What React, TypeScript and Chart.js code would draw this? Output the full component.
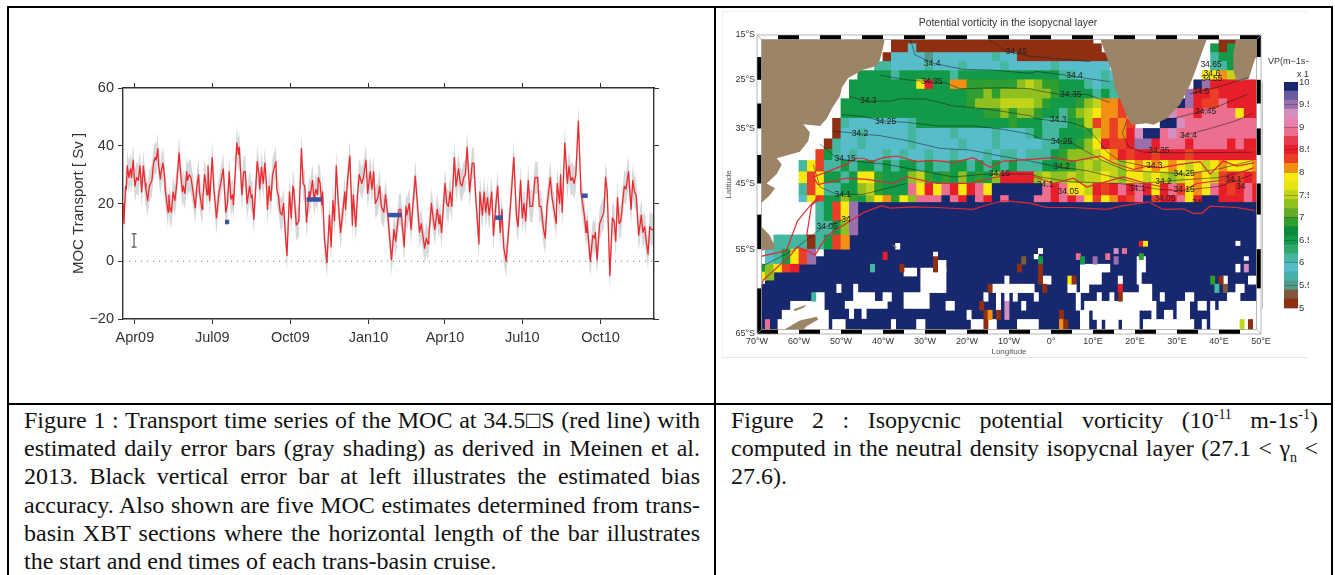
import React, { useEffect, useRef } from "react";
import { Chart, registerables } from "chart.js";

Chart.register(...registerables);

// ---------- Figure 1 data ----------
const tickDays = [14, 105, 197, 289, 379, 470, 562];
const tickMonths = ["Apr09", "Jul09", "Oct09", "Jan10", "Apr10", "Jul10", "Oct10"];
const transportDays = [0,1,3,4,5,7,8,9,10,12,14,16,18,20,22,24,26,27,29,31,34,36,38,39,41,42,44,45,47,49,50,53,54,55,57,59,61,63,66,68,70,71,73,75,76,78,80,82,85,87,89,90,93,94,96,97,99,100,102,103,105,107,110,113,115,118,119,121,123,125,127,129,130,132,134,136,137,138,140,142,144,146,149,151,152,154,158,160,161,163,165,167,169,170,172,174,176,180,181,183,185,187,189,191,193,196,198,200,201,204,207,210,212,214,216,219,220,223,225,227,229,230,232,234,235,237,240,243,245,247,249,251,253,256,259,261,262,264,267,270,271,274,276,278,281,283,286,288,291,293,295,297,300,302,304,307,309,312,316,319,321,325,327,331,333,334,337,339,344,347,349,351,355,357,359,360,363,365,367,370,372,373,375,379,381,383,385,387,390,392,395,397,399,401,403,405,408,411,413,415,419,420,423,425,427,429,431,434,436,439,441,444,446,448,451,455,460,463,465,468,470,472,474,477,479,482,485,488,490,492,495,497,499,503,505,506,510,511,514,515,517,520,523,525,527,529,531,533,536,539,541,543,545,546,550,553,555,556,558,561,566,568,570,573,576,578,580,582,584,586,590,592,595,598,600,602,604,607,610,612,614,615,618,620,622,624];
const transportSv = [20,13,26,25,33,29,31,32,29,35,26,29,28,33,24,33,27,25,21,26,28,34,36,35,39,33,28.5,31,34,29,24,17,23,19,17,24,21,26,37.5,30,24,26,23.5,31,28,30,29,25,18.5,26,30,24,18,22,30,28,23,33,21,26,36,25,15,24,27,32,27,17,20,31,21.5,23,19.5,30,41,37,39.5,33,23,31,31,20,26,22,23,14.5,34.5,30,25,32.5,27,34,26,18,26,21,30,34.5,25,22.5,17,16,20,10,2,24,15,26,25,12.5,14,39,27,26,13.5,24,22,28,21,25,23,29,27,19.5,24,8,-0.5,16,5,21,14,33,22,10,18,24,18,27,36.5,12.5,23,12,23,30,27,29,35,23.5,31,25,31,20,22,26,19,17,23,15,0.5,11,7,18,18,5,19,16,20,11,29.5,18,10,13,4.5,8,6,9,20,15,11,18,13,16,10,27,20,19,24,19,36,26,32,27,26,29,30,39.5,24,34,34,23,6,24,16,24,17,22,16,24,9,20,26,10,18,5,0,15,36,16,12,28,15,20,14,28,19,19,29,29,19,19,11,8,19,29,22,22,13,27,20,30,17,41,27,33,28,29,27,30,48.5,24,20,16,10,14,0,9,8,10,0.5,13,17,29,24,-5,15,14,7,22,13,14,26,25,31,18,28,24,23,9,16,10,12,9,2.5,12,11,11];
const dailyErrorSv = 5.5;
const biasBar = { day: 13, low: 4.9, high: 9.5, capDays: 3 };
const xbtStartDays = [120, 216, 312, 438, 540];
const xbtEndDays = [125, 234, 328, 447, 547];
const xbtSv = [13.6, 21.4, 16, 15.1, 22.7];

// ---------- Figure 2 data ----------
const pvBandColours = ["#8f2f12","#7f5a3a","#4f9a88","#45b0a8","#58bdcb","#45b7a0","#2da86a","#129a48","#0a8a3c","#2f9e30","#62ab25","#8fc020","#c2d41a","#e6e312","#f9e80f","#f39014","#ea3f24","#e61f2b","#e73a4c","#ec6f8f","#ea80ad","#d48fbe","#9a6fae","#6a5aa0","#18286e"];
const pvCodes: Record<string, number> = { b:5.05,e:5.25,t:5.5,c:5.85,T:6.05,G:6.55,g:6.85,l:7.25,y:7.45,Y:7.85,o:8.05,r:8.25,R:8.45,p:8.85,q:9.25,u:9.55,n:9.9 };
const gridLatEdges = [15,17,19,21,23,25,27,29,31,33,35,37,39,41,43,45,47,48,51,53,55,57,58,59];
const gridRows = [
"................bbbbbbbbbbbbbbbbbbbbbbbb...............bb",
"................bbcbbbbbbbbbbbbbbbbbbbbbb.............GbG",
"...............bcccctcccccccTccbbbbbbbbbbb............TGGT",
"..............TTccccTcccTccccTcccccTcccccc............TTGG",
"............GGGGTGGGGGGTGGGGGGGGGGGGTTcccTc..........YYoy",
"...........GGGGGGGGYRGGoogggggglylggGGGTcTTc........nuRRRRRR",
"...........GGGGGGGGGGGGGGgglgllllllgGGGGTGTT.......uRRrRRRRR",
"..........GGGGGGGGGGGGGGGglllyyyylgGGGglyoor......nuRrrpRRRR",
"..........GGGGGGGGGGGGGGGGGgglgllgGGTglyYoor....uqppRppppYRR",
".........bTcccccccTGGGGGGGGGGGgGGGTTTGgyroror...nnqppppppppp",
".........bccTcccccTccccTccccTcccTGTTGGGgyoroRqnnpqpppppppppp",
"........bTccTcccccTcccccTcccTcccccTTGGglYRrrRuuRpppRppppRpRR",
".......rGTcTcccTcTccTccTcccTcTTcTTTGglllyYoRrRRrRRRrRRRRRRRR",
".....TYrTTGTGGTGTGGTGTTGGTGTGTGTTTGGgglylyylYoYoYoYyYyYoYYYo",
".....YrYGGTGYYgGGGlygGgGlGgGlRRRRlyllylyyYylYYyYylyYoYyrRrRr",
".....TrYTTGGlygGGGpYRYpRYRpYnnnnnnpRpYYyRrRpRpRYRprYoYpRrRpR",
".....cYrGGlgGlYogYlpppnpRnpRnpnnnppRpRpYrYoRrpnrRRpYRnnRRRpR",
".......TGrYu",
".......TTGlu",
"..TTTTbTGro",
".cTGYru",
"GlYrR",
"Yl",
];
const navyTopLat = [59.5,59,58,58,58,57,56,56,55,55,54,52];
const navyTopDefault = 48;
// [lon start, lon end, lat top, lat bottom, code]; "." means no data
const southPatches: [number, number, number, number, string][] = [
[-37,-36,54.2,55,"."],[-28,-27,55.4,56.4,"."],[-35,-32,57.5,58.5,"."],[-31,-25,57.5,59.5,"."],[-27,-25,56.5,58,"."],[-35,-29,60.5,62.3,"."],[-31,-25,59.5,60.5,"."],
[-51,-50,59.5,60.5,"."],[-47,-46,59.5,60.5,"."],[-47,-42,60.5,61.5,"."],[-49,-39,61.5,62.3,"."],[-40,-38,60.5,61.5,"."],[-48,-47,62.3,63.4,"."],[-45,-44,62.3,63.4,"."],
[-56,-54,60.5,61.5,"."],[-62,-54,61.5,62.5,"."],[-64,-53,62.5,63.5,"."],[-65,-53,63.5,65,"."],[-52,-49,63.5,65,"."],[-38,-37,63.5,65,"."],[-32,-30,63.5,65,"."],
[-25,-23,61.5,62.5,"."],[-20,-19,62.5,63.5,"."],[-19,-16,63.5,65,"."],[-15,-13,63.5,65,"."],[-16,-15,60.5,61.5,"."],[-11,-10,58.5,59.5,"."],[-14,-4,59.5,60.5,"."],
[-13,-12,60.5,62.5,"."],[-11,-10,60.5,61.5,"."],[-9,-8,60.5,61.5,"."],[-7,-6,61.5,62.5,"."],[-8,-3,63.5,65,"."],[-4,-3,60.5,61.5,"."],[-3,-2,54.9,55.6,"."],[-4,-3,55.7,56.3,"."],
[-2,0,58.5,59.5,"."],[4,6,59.5,60.5,"."],[6,7,60.5,61.5,"."],[7,12,57,59.5,"."],[12,14,57,58,"."],[7,9,59.5,60.5,"."],[6,7,61.5,62.5,"."],[8,24,61.5,62.5,"."],[11,12,60.5,61.5,"."],
[14,15,60.5,61.5,"."],[17,21,60.5,61.5,"."],[21,24,59.5,61.5,"."],[16,17,58.5,59.5,"."],[20.5,22.5,56,58,"."],[20.5,21.5,58,59.5,"."],[7,9,62.5,65,"."],[10,17,62.5,63.5,"."],[11,12,63.5,65,"."],
[13,16,63.5,65,"."],[17,21,62.5,65,"."],[22,34,63.5,65,"."],[24,25,61.5,63.5,"."],[27,29,62.5,63.5,"."],[30,33,61.5,63.5,"."],[32,34,60.5,61.5,"."],[26,27,60.5,61.5,"."],[35,37,61.5,62.5,"."],
[36,37,63.5,65,"."],[38,39,61.5,62.5,"."],[38,49,62.5,65,"."],[40,49,61.5,62.5,"."],[42,45,60.5,61.5,"."],[44,46,59.5,60.5,"."],[41,42,58.5,59.5,"."],[47,49,58.5,59.5,"."],[44,45,57,58,"."],[46,47,56,56.5,"."],[44,45,53.9,54.5,"."],
[-40,-39,55.4,56.4,"R"],[-43,-42,57,58,"T"],[-36,-35,57,58,"b"],[-28,-27,56,58,"b"],[-57,-56,60.5,61.5,"T"],[-68,-67,63.5,64.5,"p"],[-15,-14,59.5,60.5,"b"],[-17,-16,61.5,62.5,"b"],[-16,-15,62.5,65,"b"],[-15,-14,62.5,63.5,"o"],[-13,-12,62.5,63.5,"b"],[-11,-10,61.5,63.5,"q"],[-7,-6,56,57,"e"],[-8,-7,57,58,"b"],
[-3,-2,56,57,"G"],[-3,-2,57,59.5,"b"],[-2,-1,59.5,60.5,"b"],[2,3,62.5,63.5,"b"],[2,3,63.5,65,"o"],[3,4,63.5,65,"b"],[4,5,58.5,59.5,"Y"],[5,6,58.5,59.5,"b"],[6,7,55.6,56.4,"p"],[13,14,55.6,56.4,"p"],[15,16,54.9,55.6,"q"],[17,18,54.9,55.6,"p"],[21,22,53.9,54.6,"R"],[22,23,53.9,54.6,"Y"],[21,22,55.6,56.4,"g"],[7,8,56,57,"G"],[10,11,56,57,"u"],[15,16,56,57,"u"],[16,17,59.5,60.5,"R"],[16,17,60.5,61.5,"b"],[38,39,58.5,59.5,"g"],[40,41,58.5,59.5,"b"],[39,40,59.5,60.5,"T"],[41,42,59.5,60.5,"e"],[46,47,57,58,"q"],[45,46,63.5,65,"y"],[47,48,63.5,65,"b"],
];
type P = [number, number];
const landPolygons: P[][] = [
[[-71,15],[-39.4,15],[-40,17.9],[-40.7,20.5],[-41.5,22],[-44.7,22.8],[-48.3,24.6],[-49.8,26.7],[-50.2,28.4],[-52.2,31.1],[-53.4,33.1],[-55,34.5],[-59,34.2],[-57.4,35.8],[-57.8,37.4],[-59.8,39.4],[-65.3,40.6],[-64.1,41.7],[-65.3,43.4],[-67.7,45],[-65.7,45.8],[-67,47],[-69.5,48.5],[-69.5,51.5],[-67,53],[-66,54.3],[-65.7,55],[-69.5,55.2],[-71,55.2]],
[[11.4,15],[12.5,18],[14.5,23.2],[15.2,26.9],[16.4,29],[18,32.5],[19.2,34.3],[22.8,34],[24.4,34.3],[27.6,33],[30.7,30.2],[33,26.3],[34.3,23.2],[36.3,18],[37.5,15]],
[[44.2,15],[51,15],[51,19],[48.6,20.3],[47,25],[44.2,25.3],[43.4,22.9],[43.4,19.3]],
[[-64.1,64.7],[-59.8,63.6],[-55.8,63.2],[-55.4,63.5],[-58.2,64.2],[-59.8,65],[-64.1,65]],
[[-61.3,62.4],[-58.3,61.9],[-58.8,62.2],[-61,62.6]],
[[-38,54.3],[-36.7,54.7],[-37,54.9]],
];
const landColour = "#9c8467";
const blackContours: P[][] = [
[[-15.3,15.7],[-10.5,18.8],[-5,19.8],[0.6,20.3],[9.3,21]],
[[-33.6,15.7],[-32.4,19.5],[-28,21.4],[-21,22.7],[-13.7,22.9],[-5,23.6],[-3.4,23.2],[3.7,24],[8.5,24.7],[14,25.4]],
[[-40.7,24],[-34.4,25],[-25,25.7],[-21.7,26.9],[-11.3,26.7],[-5,26.9],[-2.6,27.4],[2.1,28.1],[8.5,28.1],[14,29.8]],
[[-47.9,28.6],[-43.9,29.5],[-38.3,29.5],[-36,29],[-29.6,29.1],[-23.3,30.5],[-15.3,31.1],[-5,32.5],[-3.4,33.1],[0.6,33.5],[4.5,33.8],[8.5,34.9],[11.3,37.3],[13.3,39.4],[16.4,41.1],[24.4,42.3]],
[[-49.8,32.3],[-44.7,32.6],[-40.7,33.5],[-34.4,33.8],[-27.2,34.5],[-18.5,34.5],[-11.3,35.2],[-5,36.1],[-2.6,37],[4.5,37.6],[8.5,39.4],[12.5,41.1],[18,42.8],[26,43.1],[32.3,43.4],[40,42.5],[48,41]],
[[-52,35.5],[-47,35.9],[-40.7,36.4],[-34.4,37.3],[-26.4,38.8],[-19.3,39.1],[-11.3,40.3],[-5,41.1],[0.6,42],[8.5,42.8],[14.8,43.9],[21.2,45],[26,44.7],[31,44.4],[40,44],[48,42.5]],
[[-55,38],[-51,40.6],[-47,41.1],[-39.1,41.7],[-31.2,42.8],[-23.3,43.9],[-15.3,43.4],[-5,43.4],[-2.6,43.9],[4.5,44.7],[16.4,45],[26,46],[30.7,46.2],[40,45.5],[48,43.5]],
[[-56.6,41.7],[-55,45.6],[-51,46.8],[-44.7,46.8],[-34.4,45]],
[[-68.5,57.2],[-61.3,55.1],[-55,52.2],[-48,50.3]],
[[18,33.5],[17,36],[18.5,38.5],[22,39.5],[30,39.6],[48,39.5]],
[[27,33.5],[34,32],[40,30.5],[47,28]],
[[31,36.5],[38,35],[44,33.5],[48,32]],
[[33,28],[40,26.5],[47,24.5]],
];
const redContours: P[][] = [
[[-56.6,43.9],[-52.6,42.8],[-50.2,42.1],[-48.6,41.7],[-46.7,40.6],[-44.7,40.6],[-42.7,41.2],[-39.9,40.5],[-36.7,40.2],[-32,41.2],[-28,41],[-23.3,41.4],[-18.5,40.5],[-14.5,42.2],[-11.3,41.1],[-5,40.8],[0.6,40.5],[5.3,41.1],[11.7,40.2],[14.8,41.4],[19.6,42.6],[22.8,42],[26,42.3],[30.7,41.7],[35.5,41.2],[37.9,43.4],[41,41.1],[44.2,42],[48.5,41.4]],
[[-56.6,43.9],[-55.5,45.2],[-48.6,44.1],[-43.9,44.3],[-37.5,45],[-34.4,43.9],[-27.2,45],[-19.3,45],[-13,43.9],[-5,43.6],[0.6,45],[5.3,44.1],[8.5,45.6],[17.2,43.9],[22.8,45],[26,45.5],[30.7,46.5],[34.7,45],[40.2,44.5],[48.2,42.3]],
[[-69.3,60],[-68.5,59],[-62,55.8],[-60.4,54.7],[-57.8,55.3],[-56.2,55.8],[-53.4,53.2],[-51,52.2],[-47.9,51],[-44.7,49.7],[-40.3,48.6],[-38.3,49],[-32.8,48.8],[-27.2,48.9],[-18.5,49.2],[-15.3,48.5],[-11.3,47.8],[-5,48.2],[-1,48.9],[5.3,48.9],[13.3,49.2],[17.2,48.6],[23.2,48],[26.7,49.2],[31.5,49.1],[33.9,49.8],[35.9,49.8],[37.9,48.7],[44.2,48.9],[48.5,49.4]],
[[-69.3,56],[-63,55.2],[-60.4,51],[-57.2,48.5],[-55,47]],
[[-58.2,53.2],[-57,48.5],[-55,47.5]],
];
const contourLabels: [string, number, number][] = [
["34.45",-8.3,18.9],["34.4",-28.3,21.4],["34.35",-28.4,25.4],["34.3",-43.5,29.5],["34.25",-39.4,33.7],["34.2",-45.5,36],["34.15",-49,40.6],["34.15",-12.3,43.4],["34.1",-49.6,46.8],
["34.65",38.1,21.6],["34.6",38.3,23.6],["34.55",38.3,24.8],["34.5",35.7,27.6],["34.45",36.8,31.7],["34.4",32.7,36.3],["34.35",25.7,39.2],["34.3",24.6,42],["34.25",31.7,43.4],["34.2",26.8,44.7],["34.15",31.7,46.1],["34.1",20.5,45.9],["34.05",4.1,46.3],["34.1",-1.4,45.2],
["34.3",1.7,33.3],["34.25",2.5,37.6],["34.2",2.5,42.1],["34.35",4.7,28.2],["34.4",5.6,24.2],["34.1",43.4,44.3],["34",45.2,45.5],["34.05",27.1,47.5],["34",34.7,48.2],["34.05",-53.3,51.8],["34",-48.8,50.7],
];
const lonTicks = [-70,-60,-50,-40,-30,-20,-10,0,10,20,30,40,50];
const latTicks = [15,25,35,45,55,65];
const cbTicks = [5,5.5,6,6.5,7,7.5,8,8.5,9,9.5,10];

// ---------- caption text ----------
const captionLeft = [
"Figure 1 : Transport time series of the MOC at 34.5\u25A1S (red line) with",
"estimated daily error bars (gray shading) as derived in Meinen et al.",
"2013. Black vertical error bar at left illustrates the estimated bias",
"accuracy. Also shown are five MOC estimates determined from trans-",
"basin XBT sections where the horizontal length of the bar illustrates",
];
const captionLeftLast = "the start and end times of each trans-basin cruise.";

const merc = (lat: number) => Math.log(Math.tan(Math.PI / 4 + (lat * Math.PI) / 360));
const pvColour = (v: number) => pvBandColours[Math.min(pvBandColours.length - 1, Math.floor((v - 5) / 0.2))];
const geo = (pts: P[]) => pts.map(([lon, lat]) => ({ x: lon, y: merc(lat) }));
const SANS = "'Liberation Sans', Arimo, sans-serif";
const SERIF = "'Liberation Serif', serif";
const AXIS = "#333333";

function buildLeft(canvas: HTMLCanvasElement) {
  const series = transportDays.map((d, i) => ({ x: d, y: transportSv[i] }));
  const lower = transportDays.map((d, i) => ({ x: d, y: transportSv[i] - dailyErrorSv }));
  const upper = transportDays.map((d, i) => ({ x: d, y: transportSv[i] + dailyErrorSv }));
  const base = { type: "line" as const, pointRadius: 0, tension: 0 };
  const xbt = xbtSv.map((v, i) => ({
    ...base, order: 1, borderColor: "#3a53a4", borderWidth: 4.5, borderCapStyle: "butt" as const,
    data: [{ x: xbtStartDays[i], y: v }, { x: xbtEndDays[i], y: v }],
  }));
  const bar = (data: { x: number; y: number }[]) => ({ ...base, order: 3, borderColor: "#333", borderWidth: 1, data });
  const setTicks = (s: any) => { s.ticks = tickDays.map((value) => ({ value })); };
  const border = { display: true, color: AXIS, width: 1.4 };
  return new Chart(canvas, {
    type: "line",
    data: {
      datasets: [
        { ...base, order: 6, borderWidth: 0, borderColor: "transparent", data: lower },
        { ...base, order: 5, borderWidth: 0, borderColor: "transparent", backgroundColor: "#d6d9db", fill: "-1", data: upper },
        { ...base, order: 4, borderColor: "#777", borderWidth: 1, borderDash: [1, 5], data: [{ x: 0, y: 0 }, { x: 625, y: 0 }] },
        bar([{ x: biasBar.day, y: biasBar.low }, { x: biasBar.day, y: biasBar.high }]),
        bar([{ x: biasBar.day - biasBar.capDays, y: biasBar.low }, { x: biasBar.day + biasBar.capDays, y: biasBar.low }]),
        bar([{ x: biasBar.day - biasBar.capDays, y: biasBar.high }, { x: biasBar.day + biasBar.capDays, y: biasBar.high }]),
        ...xbt,
        { ...base, order: 2, borderColor: "#ee2a2e", borderWidth: 1.3, borderJoinStyle: "round" as const, data: series },
        { ...base, order: 9, xAxisID: "x2", yAxisID: "y2", borderWidth: 0, borderColor: "transparent", data: [{ x: 0, y: 0 }] },
      ],
    },
    options: {
      responsive: false, animation: false, parsing: false as any,
      layout: { padding: 0 },
      plugins: { legend: { display: false }, tooltip: { enabled: false } },
      scales: {
        x: {
          type: "linear", min: 0, max: 625, afterBuildTicks: setTicks, afterFit: (s: any) => { s.height = 51; },
          grid: { drawOnChartArea: false, tickLength: 5, color: AXIS }, border,
          ticks: { autoSkip: false, maxRotation: 0, padding: 5, color: AXIS, font: { family: SANS, size: 14.5 }, callback: (v: any) => tickMonths[tickDays.indexOf(Number(v))] ?? "" },
        },
        x2: {
          type: "linear", display: true, position: "top", min: 0, max: 625, afterBuildTicks: setTicks, afterFit: (s: any) => { s.height = 18; },
          grid: { display: true, drawOnChartArea: false, drawTicks: true, tickLength: 5, color: AXIS }, border,
          ticks: { display: true, autoSkip: false, padding: 0, color: "rgba(0,0,0,0)", font: { size: 2 }, callback: () => " " },
        },
        y: {
          type: "linear", min: -20, max: 60, afterFit: (s: any) => { s.width = 57; },
          grid: { drawOnChartArea: false, tickLength: 5, color: AXIS }, border,
          title: { display: true, text: "MOC Transport [ Sv ]", color: AXIS, font: { family: SANS, size: 15 }, padding: { top: 4, bottom: 0 } },
          ticks: { stepSize: 20, padding: 4, color: AXIS, font: { family: SANS, size: 14.5 }, callback: (v: any) => String(v).replace("-", "\u2212") },
        },
        y2: {
          type: "linear", display: true, position: "right", min: -20, max: 60, afterFit: (s: any) => { s.width = 16; },
          grid: { display: true, drawOnChartArea: false, drawTicks: true, tickLength: 5, color: AXIS }, border,
          ticks: { display: true, stepSize: 20, color: "rgba(0,0,0,0)", font: { size: 2 }, padding: 0, callback: () => " " },
        },
      },
    },
  } as any);
}

function buildMap(canvas: HTMLCanvasElement) {
  const gridBars: any[] = [];
  const gridColours: string[] = [];
  gridRows.forEach((row, r) => {
    [...row].forEach((ch, i) => {
      if (ch === ".") return;
      gridBars.push({ x: -69 + 2 * i, y: [merc(gridLatEdges[r]), merc(gridLatEdges[r + 1])] });
      gridColours.push(pvColour(pvCodes[ch]));
    });
  });
  const navyBars: any[] = [];
  for (let i = 0; i < 60; i++) {
    navyBars.push({ x: -69 + 2 * i, y: [merc(navyTopLat[i] ?? navyTopDefault), merc(65)] });
  }
  const patchBars: any[] = [];
  const patchColours: string[] = [];
  southPatches.forEach(([a, b, t, bt, ch]) => {
    for (let lon = a; lon < b; lon++) {
      patchBars.push({ x: lon + 0.5, y: [merc(t), merc(bt)] });
      patchColours.push(ch === "." ? "#ffffff" : pvColour(pvCodes[ch]));
    }
  });
  const bar = { type: "bar" as const, grouped: false, borderWidth: 0, borderSkipped: false };
  const lineBase = { type: "line" as const, pointRadius: 0, tension: 0 };
  const framePlugin = {
    id: "mapFrame",
    afterDatasetsDraw(chart: any) {
      const { ctx, chartArea: a, scales } = chart;
      const W = 4.5;
      ctx.save();
      ctx.fillStyle = "#fff";
      ctx.fillRect(a.left, a.top, a.width, W);
      ctx.fillRect(a.left, a.bottom - W, a.width, W);
      ctx.fillRect(a.left, a.top, W, a.height);
      ctx.fillRect(a.right - W, a.top, W, a.height);
      ctx.fillStyle = "#000";
      for (let k = 0; k < 24; k++) {
        const x0 = scales.x.getPixelForValue(-70 + 5 * k);
        const x1 = scales.x.getPixelForValue(-65 + 5 * k);
        if (k % 2 === 1) ctx.fillRect(x0, a.top, x1 - x0, W);
        else ctx.fillRect(x0, a.bottom - W, x1 - x0, W);
      }
      for (let k = 0; k < 10; k++) {
        const y0 = scales.y.getPixelForValue(merc(15 + 5 * k));
        const y1 = scales.y.getPixelForValue(merc(20 + 5 * k));
        if (k % 2 === 1) ctx.fillRect(a.left, y0, W, y1 - y0);
        else ctx.fillRect(a.right - W, y0, W, y1 - y0);
      }
      ctx.strokeStyle = "#999";
      ctx.lineWidth = 0.7;
      ctx.strokeRect(a.left, a.top, a.width, a.height);
      ctx.strokeRect(a.left + W, a.top + W, a.width - 2 * W, a.height - 2 * W);
      ctx.beginPath();
      ctx.moveTo(a.left, a.top); ctx.lineTo(a.left + W, a.top + W);
      ctx.moveTo(a.right, a.top); ctx.lineTo(a.right - W, a.top + W);
      ctx.moveTo(a.left, a.bottom); ctx.lineTo(a.left + W, a.bottom - W);
      ctx.moveTo(a.right, a.bottom); ctx.lineTo(a.right - W, a.bottom - W);
      ctx.stroke();
      ctx.fillStyle = "#222";
      ctx.textAlign = "center";
      ctx.textBaseline = "middle";
      ctx.font = `8.5px ${SANS}`;
      contourLabels.forEach(([t, lon, lat]) => {
        ctx.fillText(t, scales.x.getPixelForValue(lon), scales.y.getPixelForValue(merc(lat)));
      });
      ctx.font = `10.4px ${SANS}`;
      ctx.fillStyle = "#333";
      ctx.fillText("Potential vorticity in the isopycnal layer", (a.left + a.right) / 2 - 1, 11);
      ctx.restore();
    },
  };
  return new Chart(canvas, {
    type: "bar",
    data: {
      datasets: [
        { ...bar, order: 30, barThickness: 8.5, backgroundColor: "#18286e", data: navyBars },
        { ...bar, order: 29, barThickness: 8.5, backgroundColor: gridColours, data: gridBars },
        { ...bar, order: 28, barThickness: 4.3, backgroundColor: patchColours, data: patchBars },
        ...landPolygons.map((p) => ({ ...lineBase, order: 20, borderWidth: 0, borderColor: landColour, backgroundColor: landColour, fill: "shape", data: geo(p) })),
        ...blackContours.map((p) => ({ ...lineBase, order: 10, borderWidth: 0.7, borderColor: "rgba(30,30,30,0.75)", data: geo(p) })),
        ...redContours.map((p) => ({ ...lineBase, order: 9, borderWidth: 1.2, borderColor: "#dc2a33", data: geo(p) })),
      ],
    },
    options: {
      responsive: false, animation: false,
      layout: { padding: { top: 23, right: 19 } },
      plugins: { legend: { display: false }, tooltip: { enabled: false } },
      scales: {
        x: {
          type: "linear", offset: false, min: -70, max: 50,
          afterBuildTicks: (s: any) => { s.ticks = lonTicks.map((value) => ({ value })); },
          afterFit: (s: any) => { s.height = 23; },
          grid: { display: false, drawTicks: false, offset: false }, border: { display: false },
          title: { display: true, text: "Longitude", color: "#555", font: { family: SANS, size: 8 }, padding: 0 },
          ticks: { autoSkip: false, maxRotation: 0, padding: 2, color: AXIS, font: { family: SANS, size: 9 }, callback: (v: any) => (v === 0 ? "0\u00B0" : v < 0 ? `${-v}\u00B0W` : `${v}\u00B0E`) },
        },
        y: {
          type: "linear", reverse: true, min: merc(15), max: merc(65),
          afterBuildTicks: (s: any) => { s.ticks = latTicks.map((lat) => ({ value: merc(lat) })); },
          afterFit: (s: any) => { s.width = 37; },
          grid: { display: false, drawTicks: false }, border: { display: false },
          title: { display: true, text: "Latitude", color: "#555", font: { family: SANS, size: 8 }, padding: { top: 4, bottom: 0 } },
          ticks: { autoSkip: false, padding: 2, color: AXIS, font: { family: SANS, size: 9 }, callback: (v: any) => `${latTicks.find((l) => Math.abs(merc(l) - v) < 1e-6)}\u00B0S` },
        },
      },
    },
    plugins: [framePlugin],
  } as any);
}

function buildColourbar(canvas: HTMLCanvasElement) {
  const step = 5 / pvBandColours.length;
  const notes = {
    id: "cbNotes",
    afterDraw(chart: any) {
      const { ctx } = chart;
      ctx.save();
      ctx.fillStyle = "#333";
      ctx.font = `9px ${SANS}`;
      ctx.textBaseline = "middle";
      ctx.fillText("VP(m\u22121s\u22121)", 6, 7);
      ctx.fillText("x 10\u207B\u00B9\u00B9", 35, 20);
      ctx.restore();
    },
  };
  return new Chart(canvas, {
    type: "bar",
    data: {
      labels: ["PV"],
      datasets: pvBandColours.map((c, i) => ({
        grouped: false, barPercentage: 1, categoryPercentage: 1, backgroundColor: c, borderWidth: 0,
        data: [[5 + i * step, 5 + (i + 1) * step]],
      })),
    },
    options: {
      responsive: false, animation: false,
      layout: { padding: { left: 22, top: 27, bottom: 17 } },
      plugins: { legend: { display: false }, tooltip: { enabled: false } },
      scales: {
        x: { display: false },
        y: {
          position: "right", min: 5, max: 10,
          afterBuildTicks: (s: any) => { s.ticks = cbTicks.map((value) => ({ value })); },
          afterFit: (s: any) => { s.width = 11; },
          grid: { color: "rgba(40,40,40,0.45)", lineWidth: 0.7, drawTicks: false, z: 1 },
          border: { color: "#888" },
          ticks: { padding: 1, color: AXIS, font: { family: SANS, size: 9.5 }, callback: (v: any) => String(v) },
        },
      },
    },
    plugins: [notes],
  } as any);
}

const rule = (left: number, top: number, width: number, height: number, bg = "#000") => (
  <div style={{ position: "absolute", left, top, width, height, background: bg }} />
);

const lineStyle = (left: number, top: number, width: number, justify: boolean): React.CSSProperties => ({
  position: "absolute", left, top, width, height: 28, lineHeight: "28px",
  fontFamily: SERIF, fontSize: 24, color: "#111", whiteSpace: "nowrap",
  textAlign: justify ? "justify" : "left", textAlignLast: justify ? "justify" : "left",
});

export default function App() {
  const a = useRef<HTMLCanvasElement>(null);
  const b = useRef<HTMLCanvasElement>(null);
  const c = useRef<HTMLCanvasElement>(null);
  useEffect(() => {
    const charts = [buildLeft(a.current!), buildMap(b.current!), buildColourbar(c.current!)];
    return () => charts.forEach((ch) => ch.destroy());
  }, []);
  const sup: React.CSSProperties = { fontSize: 14, verticalAlign: "9px", lineHeight: 0 };
  return (
    <div style={{ position: "absolute", left: 0, top: 0, width: 1335, height: 575, overflow: "hidden", background: "#fff" }}>
      <canvas ref={a} width={604} height={300} style={{ position: "absolute", left: 66, top: 70, filter: "blur(0.3px)" }} />
      <canvas ref={b} width={560} height={345} style={{ position: "absolute", left: 720, top: 12, filter: "blur(0.5px)" }} />
      <canvas ref={c} width={47} height={270} style={{ position: "absolute", left: 1262, top: 55, filter: "blur(0.4px)" }} />
      {rule(722, 11, 586, 1, "#efefef")}
      {rule(722, 357, 586, 1, "#e6e6e6")}
      {rule(722, 11, 1, 346, "#efefef")}
      {rule(7, 6, 1326, 2)}
      {rule(7, 6, 2, 569)}
      {rule(714, 6, 2, 569)}
      {rule(1331, 6, 2, 569)}
      {rule(7, 403, 1326, 2)}
      {captionLeft.map((t, i) => (
        <div key={i} style={lineStyle(24, 406 + i * 28.2, 676, true)}>{t}</div>
      ))}
      <div style={lineStyle(24, 406 + 5 * 28.2, 676, false)}>{captionLeftLast}</div>
      <div style={lineStyle(731, 406, 587, true)}>
        Figure 2 : Isopycnic potential vorticity (10<span style={sup}>-11</span> m-1s<span style={sup}>-1</span>)
      </div>
      <div style={lineStyle(731, 434, 587, true)}>
        computed in the neutral density isopycnal layer (27.1 &lt; γ<sub style={{ fontSize: 14, lineHeight: 0 }}>n</sub> &lt;
      </div>
      <div style={lineStyle(731, 462, 587, false)}>27.6).</div>
    </div>
  );
}
